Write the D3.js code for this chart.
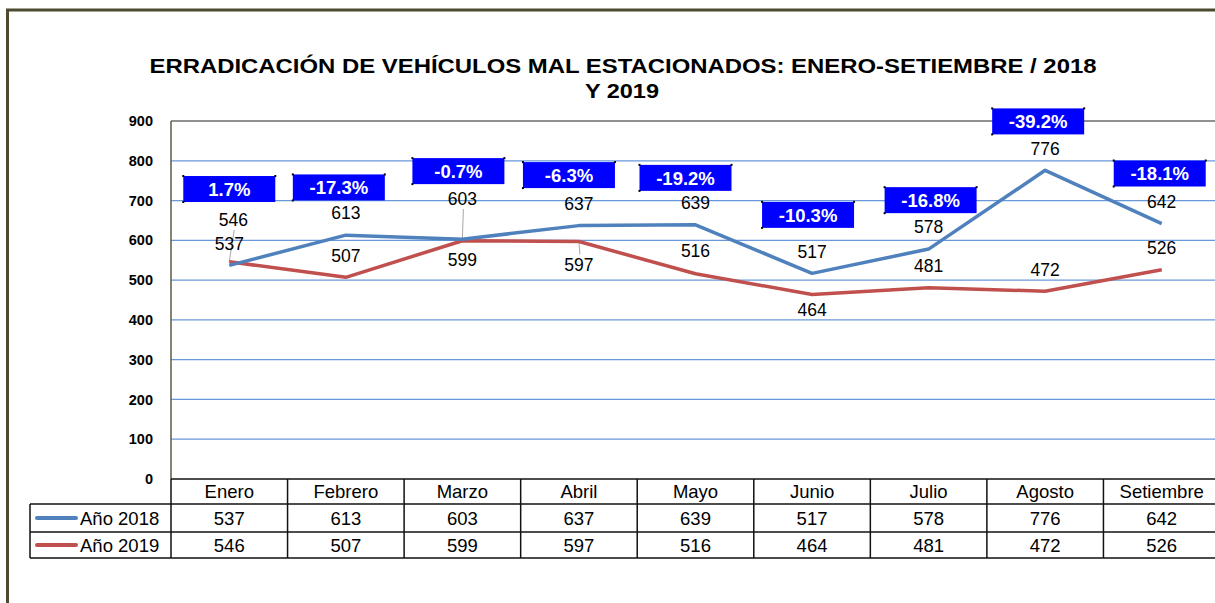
<!DOCTYPE html>
<html><head><meta charset="utf-8">
<script src="https://cdn.jsdelivr.net/npm/d3@7"></script>
<style>
html,body{margin:0;padding:0;background:#fff;overflow:hidden}
svg{display:block;font-family:"Liberation Sans",Arial,sans-serif}
</style></head>
<body>
<script>
// ---- data ----
const categories = ["Enero","Febrero","Marzo","Abril","Mayo","Junio","Julio","Agosto","Setiembre"];
const seriesNames = ["Año 2018","Año 2019"];
const values2018 = [537,613,603,637,639,517,578,776,642];
const values2019 = [546,507,599,597,516,464,481,472,526];
const pctLabels = ["1.7%","-17.3%","-0.7%","-6.3%","-19.2%","-10.3%","-16.8%","-39.2%","-18.1%"];
const yTicks = [0,100,200,300,400,500,600,700,800,900];
const titleLines = ["ERRADICACIÓN DE VEHÍCULOS MAL ESTACIONADOS: ENERO-SETIEMBRE / 2018","Y 2019"];

// ---- layout (annotation placement, not data) ----
const pctBoxLevel = [729,733,774,764,757,664,701,899,768];   // box centre level on y scale
const pctBoxDx = [0,-7,-4,-10,-10,-4,2,-7,-2];
const label2018Dy = [-22,-22,-40,-22,-22,-22,-22,-22,-22];
const label2019Dy = [-42,-22,19,23,-23,15,-22,-22,-22];
const label2019Dx = [4,0,0,0,0,0,0,0,0];
const leader2018 = [false,false,true,false,false,false,false,false,false];
const leader2019 = [true,false,false,true,false,false,false,false,false];

(function(){
const W = 1215, H = 603;
const svg = d3.select("body").append("svg").attr("width",W).attr("height",H);

// outer frame
svg.append("path").attr("d","M7.5,603 L7.5,10 L1215,10").attr("fill","none")
  .attr("stroke","#4d4a2f").attr("stroke-width",3);

// title
const title = svg.append("text").attr("text-anchor","middle").attr("font-weight","bold")
  .attr("font-size",21).attr("fill","#000");
title.append("tspan").attr("x",623).attr("y",73).attr("textLength",947).attr("lengthAdjust","spacingAndGlyphs").text(titleLines[0]);
title.append("tspan").attr("x",622).attr("y",98).attr("textLength",74).attr("lengthAdjust","spacingAndGlyphs").text(titleLines[1]);

const pL = 171, pR = 1220, pT = 121, pB = 479;
const x = d3.scaleBand().domain(categories).range([pL,pR]).padding(0);
const cx = c => x(c) + x.bandwidth()/2;
const y = d3.scaleLinear().domain([0,900]).range([pB,pT]);

// gridlines
svg.append("g").selectAll("line").data(yTicks.filter(t=>t>0 && t<900)).join("line")
  .attr("x1",pL).attr("x2",pR).attr("y1",d=>y(d)).attr("y2",d=>y(d))
  .attr("stroke","#6798da").attr("stroke-width",1.3);

// plot border (top + left)
svg.append("line").attr("x1",pL).attr("x2",pR).attr("y1",y(900)).attr("y2",y(900))
  .attr("stroke","#6b6b6b").attr("stroke-width",1.5);
svg.append("line").attr("x1",pL).attr("x2",pL).attr("y1",y(900)).attr("y2",pB)
  .attr("stroke","#5c5a45").attr("stroke-width",1.5);

// y axis labels
const yAxis = d3.axisLeft(y).tickValues(yTicks).tickSize(0).tickPadding(18);
const gy = svg.append("g").attr("transform",`translate(${pL},0)`).call(yAxis);
gy.select(".domain").remove();
gy.selectAll("text").attr("font-family","'Liberation Sans',Arial,sans-serif").attr("font-size",14.5)
  .attr("font-weight","bold").attr("fill","#000");

// leader lines
function leaders(vals, dy, dx, flags){
  categories.forEach((c,i)=>{
    if(!flags[i]) return;
    const px = cx(c), py = y(vals[i]);
    const ly = py + dy[i] + (dy[i] < 0 ? 10 : -10);
    svg.append("line").attr("x1",px+(dx?dx[i]:0)+1).attr("y1",ly).attr("x2",px).attr("y2",py)
      .attr("stroke","#a6a6a6").attr("stroke-width",1);
  });
}
leaders(values2018,label2018Dy,null,leader2018);
leaders(values2019,label2019Dy,label2019Dx,leader2019);

// lines
const line = d3.line().x((d,i)=>cx(categories[i])).y(d=>y(d));
svg.append("path").datum(values2019).attr("d",line).attr("fill","none")
  .attr("stroke","#c0504d").attr("stroke-width",3.5).attr("stroke-linejoin","round");
svg.append("path").datum(values2018).attr("d",line).attr("fill","none")
  .attr("stroke","#4f81bd").attr("stroke-width",3.5).attr("stroke-linejoin","round");

// value labels
function labels(vals, dy, dx){
  svg.append("g").selectAll("text").data(vals).join("text")
    .attr("x",(d,i)=>cx(categories[i])+(dx?dx[i]:0)).attr("y",(d,i)=>y(d)+dy[i])
    .attr("dy","0.36em").attr("text-anchor","middle").attr("font-size",17.5).attr("fill","#000")
    .text(d=>d);
}
labels(values2018,label2018Dy,null);
labels(values2019,label2019Dy,label2019Dx);

// percentage boxes
const bw = 92, bh = 26;
const pg = svg.append("g").selectAll("g").data(pctLabels).join("g")
  .attr("transform",(d,i)=>`translate(${cx(categories[i])+pctBoxDx[i]},${y(pctBoxLevel[i])})`);
pg.append("rect").attr("x",-bw/2).attr("y",-bh/2).attr("width",bw).attr("height",bh).attr("fill","#0000ff");
pg.append("rect").attr("x",-bw/2-1).attr("y",-bh/2-1).attr("width",2).attr("height",2).attr("fill","#000");
pg.append("rect").attr("x",bw/2-1).attr("y",-bh/2-1).attr("width",2).attr("height",2).attr("fill","#000");
pg.append("rect").attr("x",-bw/2-1).attr("y",bh/2-1).attr("width",2).attr("height",2).attr("fill","#000");
pg.append("text").attr("text-anchor","middle").attr("dy","0.36em").attr("font-size",18.5)
  .attr("font-weight","bold").attr("fill","#fff").text(d=>d);

// data table
const rowTop = [479,504,532,558];
const tbl = svg.append("g");
const stroke = "#111";
tbl.append("line").attr("x1",pL).attr("x2",pR).attr("y1",rowTop[0]).attr("y2",rowTop[0]).attr("stroke",stroke).attr("stroke-width",1.5);
[1,2,3].forEach(k=>tbl.append("line").attr("x1",30).attr("x2",pR).attr("y1",rowTop[k]).attr("y2",rowTop[k]).attr("stroke",stroke).attr("stroke-width",1.5));
tbl.append("line").attr("x1",30).attr("x2",30).attr("y1",rowTop[1]).attr("y2",rowTop[3]).attr("stroke",stroke).attr("stroke-width",1.5);
categories.forEach(c=>{
  tbl.append("line").attr("x1",x(c)).attr("x2",x(c)).attr("y1",rowTop[0]).attr("y2",rowTop[3]).attr("stroke",stroke).attr("stroke-width",1.5);
});
tbl.append("g").selectAll("text").data(categories).join("text")
  .attr("x",d=>cx(d)).attr("y",(rowTop[0]+rowTop[1])/2).attr("dy","0.36em")
  .attr("text-anchor","middle").attr("font-size",18.5).text(d=>d);
[values2018,values2019].forEach((vals,k)=>{
  const yc = (rowTop[k+1]+rowTop[k+2])/2;
  tbl.append("g").selectAll("text").data(vals).join("text")
    .attr("x",(d,i)=>cx(categories[i])).attr("y",yc).attr("dy","0.36em")
    .attr("text-anchor","middle").attr("font-size",18.5).text(d=>d);
  tbl.append("line").attr("x1",37).attr("x2",76).attr("y1",yc).attr("y2",yc)
    .attr("stroke",k===0?"#4f81bd":"#c0504d").attr("stroke-width",4).attr("stroke-linecap","round");
  tbl.append("text").attr("x",80).attr("y",yc).attr("dy","0.36em").attr("font-size",18.5).text(seriesNames[k]);
});
})();
</script>
</body></html>
